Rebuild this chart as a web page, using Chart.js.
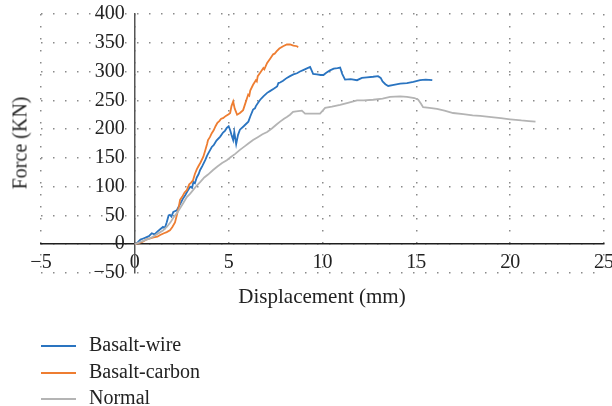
<!DOCTYPE html>
<html lang="en">
<head>
    <meta charset="UTF-8">
    <title>Force - Displacement</title>
    <script src="https://cdn.jsdelivr.net/npm/chart.js"></script>
    <style>
        body {
            margin: 0;
            background: #fff;
            font-family: "Liberation Serif", serif;
            color: #222;
        }
        .wrap {
            position: relative;
            width: 612px;
            height: 406px;
        }
        .y-title {
            position: absolute;
            left: 20px;
            top: 143px;
            transform: translate(-50%, -50%) rotate(-90deg);
            font-size: 20px;
            white-space: nowrap;
        }
        .x-title {
            position: absolute;
            left: 322px;
            top: 296px;
            transform: translate(-50%, -50%);
            font-size: 21px;
            white-space: nowrap;
        }
        .legend {
            position: absolute;
            left: 41px;
            top: 331px;
            font-size: 20px;
        }
        .legend div {
            height: 26.5px;
            line-height: 26.5px;
            white-space: nowrap;
        }
        .legend span {
            display: inline-block;
            width: 35px;
            height: 2px;
            vertical-align: middle;
            margin-right: 13px;
        }
    </style>
</head>
<body>
<div class="wrap">
    <canvas id="chart"></canvas>
    <div class="y-title">Force (KN)</div>
    <div class="x-title">Displacement (mm)</div>
    <div class="legend" id="legend"></div>
</div>

<script>
    // tick values
    const xTicks = [-5, 0, 5, 10, 15, 20, 25];
    const yTicks = [-50, 0, 50, 100, 150, 200, 250, 300, 350, 400];

    // Basalt-wire
    const wireX = [0, 0.15, 0.3, 0.45, 0.6, 0.75, 0.9, 1.05, 1.2, 1.35, 1.5, 1.6, 1.7, 1.8, 1.87, 1.95, 2.05, 2.24, 2.35, 2.45,
        2.58, 2.7, 2.8, 2.95, 3.05, 3.12, 3.2, 3.3, 3.4, 3.48, 3.6, 3.75, 3.85, 3.95, 4.1, 4.2, 4.35, 4.55, 4.7, 4.8,
        4.9, 5.0, 5.08, 5.15, 5.24, 5.3, 5.4, 5.5, 5.6, 5.8, 6.05, 6.15, 6.3, 6.4, 6.45, 6.55, 6.68, 6.85, 7.05, 7.2, 7.4,
        7.58, 7.65, 7.74, 7.9, 8.1, 8.27, 8.45, 8.64, 8.8, 9.0, 9.2, 9.34, 9.5, 9.7, 9.9, 10.05, 10.2, 10.4, 10.6, 10.8, 10.94,
        11.05, 11.2, 11.5, 11.84, 12.1, 12.37, 12.7, 12.96, 13.1, 13.2, 13.35, 13.5, 13.8, 14.14, 14.5, 14.84, 15.2, 15.5, 15.85];
    const wireY = [0, 3, 8, 10, 12, 14, 19, 17, 22, 26, 30, 28, 38, 50, 51, 48, 56, 59, 66, 72,
        80, 86, 92, 100, 98, 108, 106, 116, 122, 129, 136, 146, 154, 160, 169, 172, 180, 187, 194, 197,
        202, 205, 198, 190, 181, 195, 174, 190, 199, 205, 213, 222, 234, 236, 240, 245, 251, 257, 263, 266, 270,
        274, 280, 281, 284, 289, 292, 295, 297, 300, 303, 306, 308, 296, 295, 294, 294, 298, 302, 305, 306, 307,
        296, 286, 287, 285, 289, 290, 291, 292, 289, 283, 278, 275, 277, 279, 280, 282, 285, 286, 285];

    // Basalt-carbon
    const carbonX = [0, 0.2, 0.4, 0.6, 0.81, 1.0, 1.2, 1.35, 1.55, 1.7, 1.87, 2.0, 2.14, 2.25, 2.35, 2.41, 2.55, 2.65, 2.77, 2.9,
        3.0, 3.1, 3.2, 3.3, 3.38, 3.5, 3.65, 3.75, 3.85, 3.9, 4.0, 4.1, 4.2, 4.3, 4.4, 4.5, 4.6, 4.7, 4.85, 5.0,
        5.08, 5.15, 5.24, 5.32, 5.45, 5.6, 5.77, 5.9, 6.04, 6.1, 6.15, 6.3, 6.45, 6.5, 6.55, 6.68, 6.85, 6.9, 7.05, 7.2, 7.37, 7.45,
        7.55, 7.7, 7.9, 8.1, 8.27, 8.45, 8.64, 8.7];
    const carbonY = [0, 2, 4, 8, 10, 12, 13, 16, 19, 21, 24, 30, 38, 52, 66, 77, 84, 90, 94, 104,
        107, 111, 122, 130, 135, 142, 152, 163, 174, 181, 186, 193, 198, 205, 211, 214, 218, 219, 223, 226,
        228, 240, 248, 236, 225, 228, 233, 246, 260, 258, 267, 277, 285, 283, 292, 298, 306, 304, 315, 322, 330, 331,
        335, 340, 344, 347, 347, 345, 344, 342];

    // Normal
    const normalX = [0, 0.3, 0.55, 0.8, 1.0, 1.2, 1.5, 1.7, 1.9, 2.05, 2.24, 2.4, 2.55, 2.77, 2.95, 3.1, 3.3, 3.48, 3.7, 3.9,
        4.17, 4.4, 4.65, 4.9, 5.1, 5.35, 5.6, 5.85, 6.05, 6.3, 6.55, 6.8, 7.05, 7.3, 7.55, 7.74, 7.95, 8.1, 8.27, 8.43,
        8.6, 8.9, 9.07, 9.4, 9.87, 10.14, 10.5, 10.94, 11.4, 11.84, 12.2, 12.7, 13.2, 13.6, 14.14, 14.5, 14.9, 15.1, 15.25, 15.36,
        15.7, 16.1, 16.5, 16.96, 17.5, 18.0, 18.4, 19.0, 19.5, 20.0, 20.6, 21.0, 21.35];
    const normalY = [0, 4, 7, 10, 14, 18, 24, 30, 38, 46, 54, 62, 70, 82, 88, 94, 102, 108, 116, 121,
        129, 135, 141, 146, 151, 157, 164, 170, 175, 181, 186, 191, 195, 201, 208, 213, 218, 221, 225, 230,
        231, 232, 227, 227, 227, 237, 239, 242, 246, 250, 250, 251, 253, 256, 257, 256, 254, 251, 244, 238,
        237, 235, 232, 228, 226, 224, 223, 221, 219, 217, 215, 214, 213];

    const seriesNames = ['Basalt-wire', 'Basalt-carbon', 'Normal'];
    const seriesColors = ['#2a74c0', '#ee7d31', '#b4b4b4'];

    function toPoints(xs, ys) {
        return xs.map((x, i) => ({ x: x, y: ys[i] }));
    }

    const lineSets = [toPoints(wireX, wireY), toPoints(carbonX, carbonY), toPoints(normalX, normalY)];
    const datasets = lineSets.map((pts, i) => ({
        label: seriesNames[i],
        data: pts,
        showLine: true,
        borderColor: seriesColors[i],
        borderWidth: 1.8,
        pointRadius: 0,
        tension: 0
    })).reverse();

    const minus = v => String(v).replace('-', '\u2212');
    // labels of a positioned y axis sit flush on the line, so pad them with spaces
    const minusPadded = v => minus(v) + '  ';
    const noSize = scale => {
        if (scale.axis === 'x') scale.height = 0; else scale.width = 0;
        scale.paddingLeft = 0;
        scale.paddingRight = 0;
        scale.paddingTop = 0;
        scale.paddingBottom = 0;
    };

    new Chart(document.getElementById('chart'), {
        type: 'scatter',
        data: { datasets: datasets },
        options: {
            responsive: true,
            maintainAspectRatio: false,
            animation: false,
            layout: { padding: { left: 41, right: 8, top: 14, bottom: 133 } },
            plugins: {
                legend: { display: false },
                tooltip: { enabled: false }
            },
            scales: {
                x: {
                    type: 'linear',
                    position: { y: 0 },
                    min: -5,
                    max: 25,
                    afterBuildTicks: s => { s.ticks = xTicks.map(v => ({ value: v })); },
                    afterFit: noSize,
                    grid: { color: '#8a8a8a', lineWidth: 1.5, drawTicks: false },
                    border: { color: '#1e1e1e', width: 1.5, dash: [1.5, 10.5] },
                    ticks: {
                        color: '#222',
                        padding: 7,
                        font: { family: 'Liberation Serif', size: 20 },
                        callback: minus
                    }
                },
                y: {
                    type: 'linear',
                    position: { x: 0 },
                    min: -50,
                    max: 400,
                    afterBuildTicks: s => { s.ticks = yTicks.map(v => ({ value: v })); },
                    afterFit: noSize,
                    grid: { color: '#8a8a8a', lineWidth: 1.5, drawTicks: false },
                    border: { color: '#555', width: 1.5, dash: [1.5, 10.5] },
                    ticks: {
                        color: '#222',
                        font: { family: 'Liberation Serif', size: 20 },
                        callback: minusPadded
                    }
                }
            }
        }
    });

    // legend
    const legend = document.getElementById('legend');
    seriesNames.forEach((name, i) => {
        const row = document.createElement('div');
        row.innerHTML = '<span style="background:' + seriesColors[i] + '"></span>' + name;
        legend.appendChild(row);
    });
</script>
</body>
</html>
